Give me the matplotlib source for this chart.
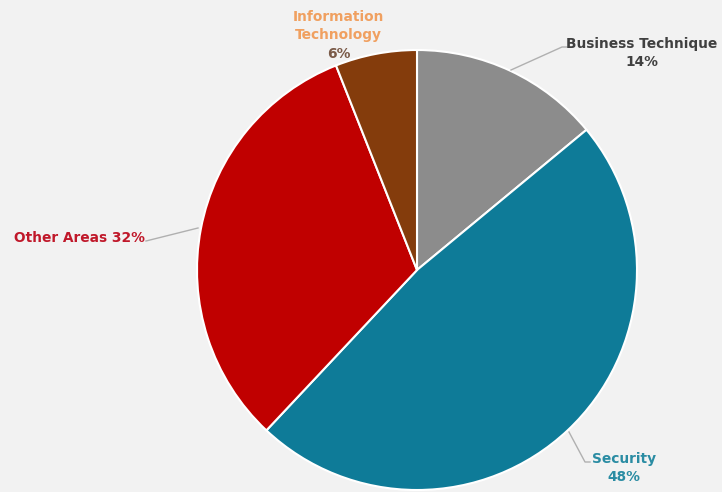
import matplotlib
matplotlib.use("Agg")
import matplotlib.pyplot as plt

categories = ["Business Technique", "Security", "Other Areas", "Information Technology"]
shares = [14, 48, 32, 6]
slice_colors = ["#8c8c8c", "#0e7b98", "#c00000", "#843c0c"]

W, H = 722, 492
fig = plt.figure(figsize=(W / 100, H / 100), dpi=100, facecolor="#f2f2f2")
ax = fig.add_axes([0, 0, 1, 1])
ax.set_facecolor("#f2f2f2")

cx, cy, r = 417, 222, 220
ax.pie(shares, colors=slice_colors, startangle=90, counterclock=False,
       center=(cx, cy), radius=r, frame=True,
       wedgeprops=dict(edgecolor="white", linewidth=1.5))
ax.set_xlim(0, W)
ax.set_ylim(0, H)
ax.set_aspect("equal")
ax.axis("off")

font = dict(fontsize=9.9, fontweight="bold", family="DejaVu Sans")
lc = "#b0b0b0"

# Business Technique
ax.plot([511, 562, 567], [H - 70, H - 47, H - 47], color=lc, lw=1.0)
ax.text(642, H - 44, categories[0], color="#404040", ha="center", va="center", **font)
ax.text(642, H - 62, f"{shares[0]}%", color="#404040", ha="center", va="center", **font)

# Security
ax.plot([569, 585, 590], [H - 432, H - 462, H - 462], color=lc, lw=1.0)
ax.text(624, H - 459, categories[1], color="#2a8ca3", ha="center", va="center", **font)
ax.text(624, H - 477, f"{shares[1]}%", color="#2a8ca3", ha="center", va="center", **font)

# Other Areas
ax.plot([146, 198], [H - 241, H - 228], color=lc, lw=1.0)
ax.text(79, H - 238, f"{categories[2]} {shares[2]}%", color="#c0182a",
        ha="center", va="center", **font)

# Information Technology
ax.text(338, H - 17, "Information", color="#f0a060", ha="center", va="center", **font)
ax.text(338, H - 35, "Technology", color="#f0a060", ha="center", va="center", **font)
ax.text(339, H - 54, f"{shares[3]}%", color="#7a5a48", ha="center", va="center", **font)

fig.savefig("out.png", dpi=100, facecolor=fig.get_facecolor())
